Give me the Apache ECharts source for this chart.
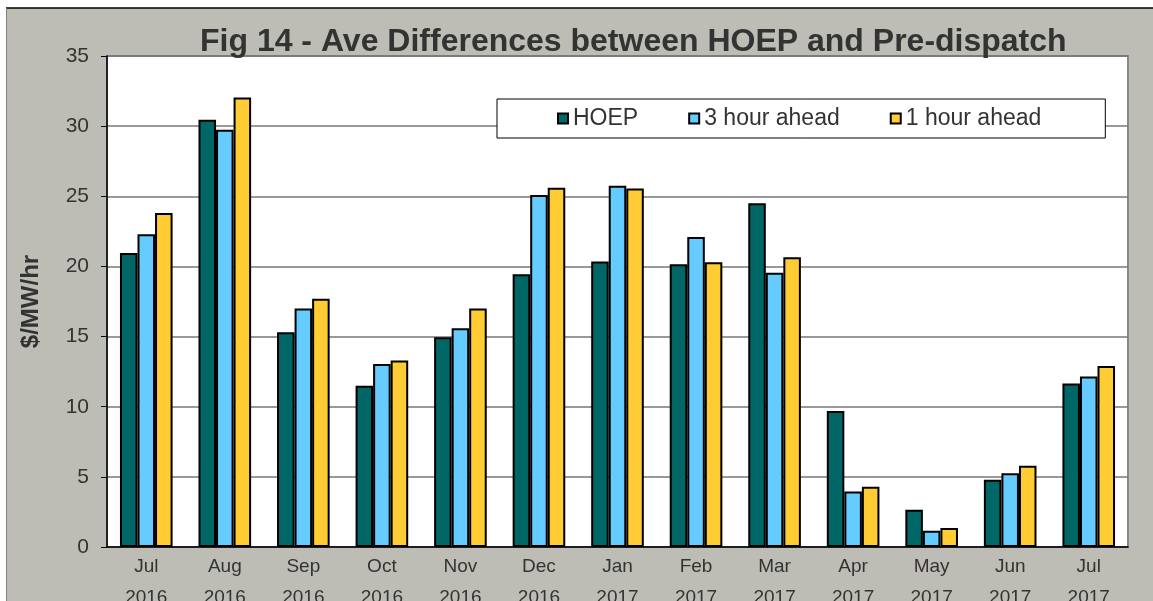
<!DOCTYPE html>
<html>
<head>
<meta charset="utf-8">
<script src="https://cdn.jsdelivr.net/npm/echarts@6/dist/echarts.min.js"></script>
<style>
  html, body { margin: 0; padding: 0; background: #fff; }
  #chart { width: 1153px; height: 601px; }
</style>
</head>
<body>
<div id="chart"></div>
<script>
var months = ['Jul\n2016', 'Aug\n2016', 'Sep\n2016', 'Oct\n2016', 'Nov\n2016', 'Dec\n2016',
              'Jan\n2017', 'Feb\n2017', 'Mar\n2017', 'Apr\n2017', 'May\n2017', 'Jun\n2017', 'Jul\n2017'];
var hoep      = [20.95, 30.45, 15.3, 11.5, 14.95, 19.45, 20.35, 20.15, 24.5, 9.7, 2.65, 4.8, 11.65];
var ahead3h   = [22.3, 29.75, 17.0, 13.05, 15.6, 25.1, 25.75, 22.1, 19.55, 3.95, 1.15, 5.25, 12.15];
var ahead1h   = [23.8, 32.05, 17.7, 13.3, 17.0, 25.6, 25.55, 20.3, 20.65, 4.3, 1.35, 5.8, 12.9];
var yTicks    = [0, 5, 10, 15, 20, 25, 30, 35];

var chart = echarts.init(document.getElementById('chart'));

var font = 'Liberation Sans, Arial, sans-serif';
var barStyle = function (c) {
  return { color: c, borderColor: '#000', borderWidth: 2 };
};

var option = {
  backgroundColor: '#bdbdb5',
  animation: false,
  textStyle: { fontFamily: font },
  title: {
    text: 'Fig 14 - Ave Differences between HOEP and Pre-dispatch',
    left: 200,
    top: 26,
    padding: 0,
    textStyle: { fontSize: 32, fontWeight: 'bold', color: '#333', fontFamily: font }
  },
  legend: {
    left: 497,
    top: 99,
    padding: [8, 64, 8, 60],
    backgroundColor: '#fff',
    borderColor: '#000',
    borderWidth: 1,
    itemWidth: 10,
    itemHeight: 10,
    itemGap: 50,
    icon: 'rect',
    textStyle: { fontSize: 23, color: '#333', fontFamily: font },
    data: ['HOEP', '3 hour ahead', '1 hour ahead']
  },
  grid: {
    left: 107,
    right: 25,
    top: 56,
    bottom: 54,
    outerBoundsMode: 'none',
    show: true,
    backgroundColor: '#fff',
    borderColor: '#888',
    borderWidth: 2
  },
  xAxis: {
    type: 'category',
    data: months,
    axisLine: { lineStyle: { color: '#000', width: 1.5 } },
    axisTick: { length: 60, lineStyle: { color: '#000', width: 1.5 } },
    axisLabel: { color: '#333', fontSize: 19, lineHeight: 31, margin: 4, interval: 0 }
  },
  yAxis: {
    type: 'value',
    min: yTicks[0],
    max: yTicks[yTicks.length - 1],
    interval: 5,
    name: '$/MW/hr',
    nameLocation: 'middle',
    nameGap: 64,
    nameTextStyle: { fontSize: 24, fontWeight: 'bold', color: '#333' },
    axisLine: { show: true, lineStyle: { color: '#000', width: 1.5 } },
    axisTick: { show: true, length: 6, lineStyle: { color: '#000' } },
    axisLabel: { color: '#333', fontSize: 21, margin: 18 },
    splitLine: { lineStyle: { color: '#777', width: 1.5 } }
  },
  series: [
    { name: 'HOEP', type: 'bar', data: hoep, barGap: '0%', barCategoryGap: '33%', itemStyle: barStyle('#006666') },
    { name: '3 hour ahead', type: 'bar', data: ahead3h, itemStyle: barStyle('#66ccff') },
    { name: '1 hour ahead', type: 'bar', data: ahead1h, itemStyle: barStyle('#ffcc33') }
  ],
  graphic: [
    { type: 'rect', shape: { x: 0, y: 0, width: 1153, height: 8 }, style: { fill: '#fff' } },
    { type: 'rect', shape: { x: 0, y: 0, width: 6, height: 601 }, style: { fill: '#fff' } },
    { type: 'line', shape: { x1: 6, y1: 8, x2: 1153, y2: 8 }, style: { stroke: '#000', lineWidth: 1.5 } },
    { type: 'line', shape: { x1: 6.5, y1: 8, x2: 6.5, y2: 601 }, style: { stroke: '#808080', lineWidth: 1 } }
  ]
};

chart.setOption(option);
</script>
</body>
</html>
